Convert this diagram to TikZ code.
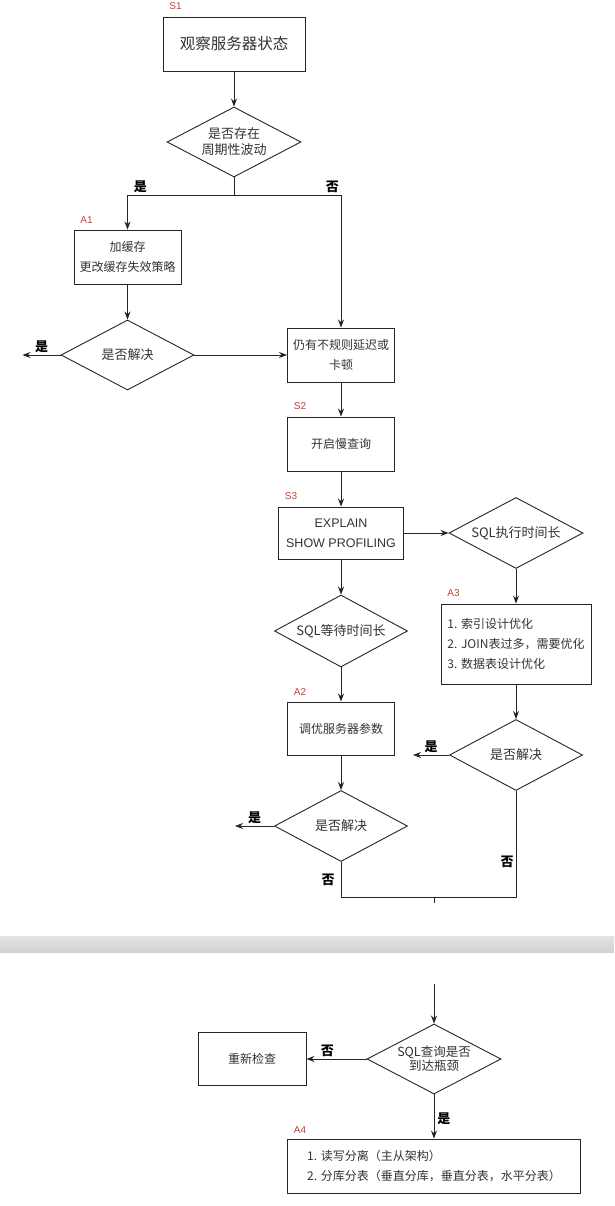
\documentclass[tikz,border=0pt]{standalone}
\usepackage{fontspec}
\setmainfont{Noto Sans CJK SC}
\newfontfamily\latinfont{Liberation Sans}
\usetikzlibrary{arrows.meta, positioning, shapes.geometric}
\definecolor{tagred}{HTML}{C9403A}
\definecolor{inkgray}{HTML}{262626}
\definecolor{textgray}{HTML}{333333}

\begin{document}
\begin{tikzpicture}[
        x=1pt, y=-1pt, node distance=1cm, on grid, >={Stealth[length=8pt,width=6pt]},
        box/.style={rectangle, draw=inkgray, line width=0.9pt, minimum width=107pt, minimum height=54pt,
            align=center, text=textgray, font=\fontsize{12}{20}\selectfont},
        test/.style={diamond, draw=inkgray, line width=0.9pt, aspect=1.9, inner sep=0pt,
            minimum width=133pt, minimum height=71pt, align=center, text=textgray,
            font=\fontsize{13}{16}\selectfont},
        tag/.style={text=tagred, inner sep=0pt, font=\latinfont\fontsize{10}{10}\selectfont},
        answer/.style={inner sep=2pt, text=black, font=\bfseries\fontsize{13}{13}\selectfont},
        link/.style={->, draw=inkgray, line width=0.9pt},
        wire/.style={draw=inkgray, line width=0.9pt},
        ]

        \fill[white] (0,0) rectangle (614,1206);
        \useasboundingbox (0,0) rectangle (614,1206);

        % upper part
        \node[box, minimum width=142pt, font=\fontsize{15.5}{18}\selectfont] (s_1) at (234,44) {观察服务器状态};
        \node[test, minimum width=134pt, minimum height=70pt] (d_1) [below=98pt of s_1] {是否存在\\周期性波动};
        \coordinate[below=53pt of d_1] (fork);
        \node[box] (a_1) [below left=115pt and 106.5pt of d_1] {加缓存\\更改缓存失效策略};
        \node[test, minimum height=70pt] (d_2) [below=98pt of a_1] {是否解决};
        \coordinate[left=105pt of d_2] (yes_2);
        \node[box] (b_1) [right=213.5pt of d_2] {仍有不规则延迟或\\卡顿};
        \node[box] (s_2) [below=89pt of b_1] {开启慢查询};
        \node[box, minimum width=125pt, minimum height=52pt, font=\latinfont\fontsize{12.5}{20}\selectfont]
            (s_3) [below=89pt of s_2] {EXPLAIN\\SHOW PROFILING};
        \node[test, minimum width=134pt] (d_3) [right=175pt of s_3] {SQL执行时间长};
        \node[box, minimum width=150pt, minimum height=80pt, align=left] (a_3) [below=111pt of d_3]
            {1. 索引设计优化\\2. JOIN表过多，需要优化\\3. 数据表设计优化};
        \node[test, minimum height=72pt] (d_4) [below=98pt of s_3] {SQL等待时间长};
        \node[box, minimum height=53pt] (a_2) [below=97.5pt of d_4] {调优服务器参数};
        \node[test] (d_5) [below=97.5pt of a_2] {是否解决};
        \coordinate[left=106pt of d_5] (yes_5);
        \node[test] (d_6) [below=111pt of a_3] {是否解决};
        \coordinate[left=103pt of d_6] (yes_6);
        \coordinate[below=71pt of d_5] (join_l);
        \coordinate (join_r) at (join_l -| d_6);
        \coordinate[right=93pt of join_l] (join_m);
        \coordinate[below=6pt of join_m] (cut_1);

        % page break
        \shade[top color=gray!22, bottom color=gray!36] (0,936) rectangle (614,952);

        % lower part
        \node[test, minimum width=134pt, minimum height=70pt, font=\fontsize{12.5}{14}\selectfont]
            (d_7) at (434,1059) {SQL查询是否\\到达瓶颈};
        \coordinate (cut_2) at (434,984);
        \node[box, minimum width=108pt, minimum height=53pt] (c_1) [left=182pt of d_7] {重新检查};
        \node[box, minimum width=293pt, align=left] (a_4) [below=107pt of d_7]
            {1. 读写分离（主从架构）\\2. 分库分表（垂直分库，垂直分表，水平分表）};

        % step labels
        \node[tag] (t_s1) [above right=10pt and 13pt of s_1.north west, anchor=center] {S1};
        \node[tag] (t_a1) [above right=9pt and 13pt of a_1.north west, anchor=center] {A1};
        \node[tag] (t_s2) [above right=10pt and 13pt of s_2.north west, anchor=center] {S2};
        \node[tag] (t_s3) [above right=10pt and 13pt of s_3.north west, anchor=center] {S3};
        \node[tag] (t_a3) [above right=10pt and 13pt of a_3.north west, anchor=center] {A3};
        \node[tag] (t_a2) [above right=10pt and 13pt of a_2.north west, anchor=center] {A2};
        \node[tag] (t_a4) [above right=9pt and 13pt of a_4.north west, anchor=center] {A4};

        \path[link] (s_1) edge (d_1)
        (a_1) edge (d_2)
        (d_2) edge (b_1)
        (b_1) edge (s_2)
        (s_2) edge (s_3)
        (s_3) edge (d_3)
        (s_3) edge (d_4)
        (d_3) edge (a_3)
        (d_4) edge (a_2)
        (a_2) edge (d_5)
        (a_3) edge (d_6)
        (d_2) edge node [answer, anchor=south] {是} (yes_2)
        (d_5) edge node [answer, anchor=south] {是} (yes_5)
        (d_6) edge node [answer, anchor=south] {是} (yes_6)
        (d_7) edge node [answer, anchor=south, pos=0.65] {否} (c_1)
        (d_7) edge node [answer, anchor=west, pos=0.55, xshift=1pt] {是} (a_4);
        \draw[link] (cut_2) -- (d_7.north);
        \draw[link] (d_1) -- (fork) -| node [answer, anchor=south, pos=0.44] {是} (a_1);
        \draw[link] (fork) -| node [answer, anchor=south, pos=0.46] {否} (b_1);
        \draw[wire] (d_5) -- node [answer, anchor=east, xshift=-4pt] {否} (join_l)
        -- (join_r) -- node [answer, anchor=east, pos=0.33] {否} (d_6);
        \draw[wire] (join_m) -- (cut_1);
      \end{tikzpicture}
\end{document}
